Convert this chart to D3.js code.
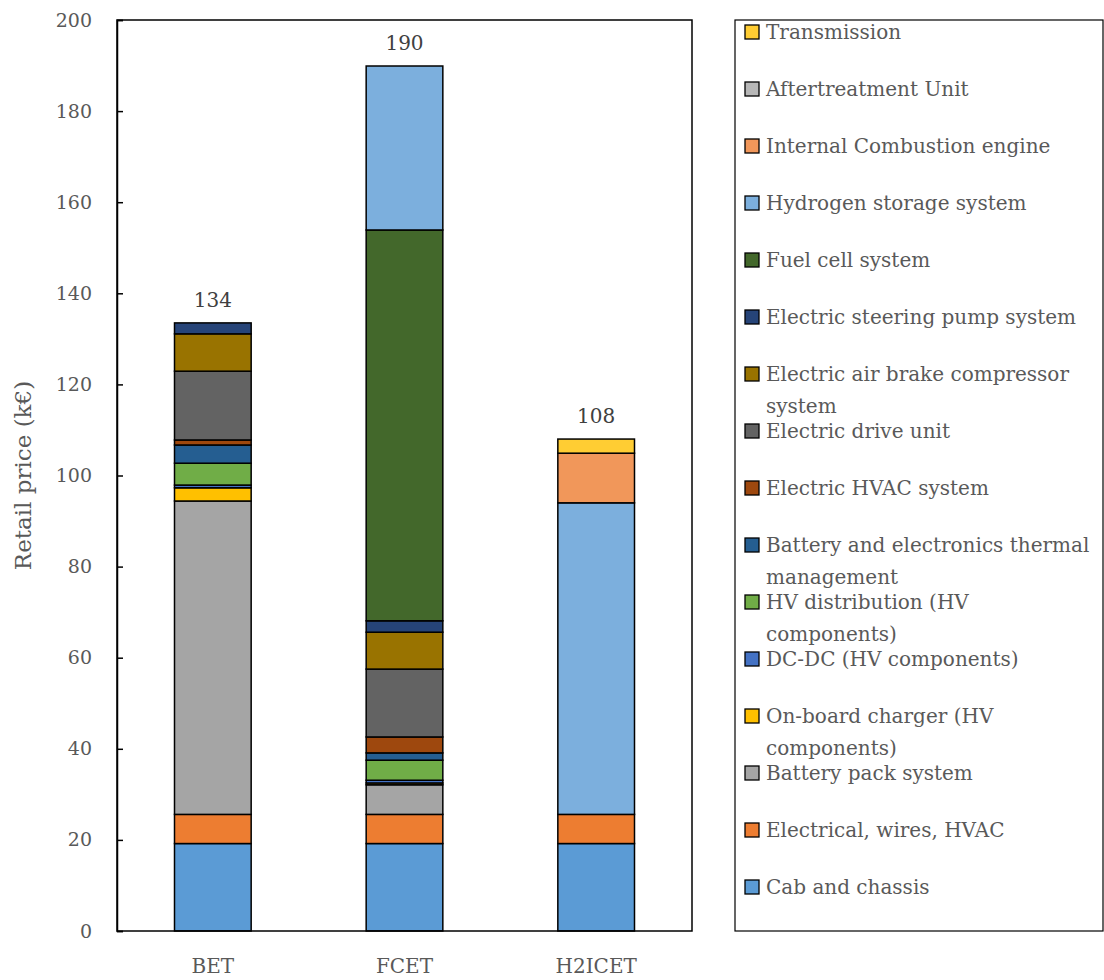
<!DOCTYPE html>
<html>
<head>
<meta charset="utf-8">
<script src="https://cdn.jsdelivr.net/npm/d3@7"></script>
<style>
  html, body { margin: 0; padding: 0; background: #fff; }
  svg text { font-family: "DejaVu Serif", serif; fill: #595959; }
</style>
</head>
<body>
<svg id="chart" width="1104" height="980"></svg>
<script>
// Truck types on the x axis
const categories = ["BET", "FCET", "H2ICET"];

// Component names, in stacking order (bottom to top); "\n" marks a legend line break
const components = [
  "Cab and chassis",
  "Electrical, wires, HVAC",
  "Battery pack system",
  "On-board charger (HV\ncomponents)",
  "DC-DC (HV components)",
  "HV distribution (HV\ncomponents)",
  "Battery and electronics thermal\nmanagement",
  "Electric HVAC system",
  "Electric drive unit",
  "Electric air brake compressor\nsystem",
  "Electric steering pump system",
  "Fuel cell system",
  "Hydrogen storage system",
  "Internal Combustion engine",
  "Aftertreatment Unit",
  "Transmission"
];

// Retail price per component (k€), one value per truck type [BET, FCET, H2ICET]
const cabChassis        = [19.2, 19.2, 19.2];
const electricalWires   = [6.4, 6.4, 6.4];
const batteryPack       = [68.8, 6.5, 0];
const onBoardCharger    = [2.9, 0.4, 0];
const dcdc              = [0.6, 0.6, 0];
const hvDistribution    = [4.8, 4.4, 0];
const thermalManagement = [4.0, 1.6, 0];
const electricHvac      = [1.1, 3.5, 0];
const electricDriveUnit = [15.1, 14.9, 0];
const airBrake          = [8.2, 8.1, 0];
const steeringPump      = [2.4, 2.5, 0];
const fuelCell          = [0, 85.8, 0];
const hydrogenStorage   = [0, 36.0, 68.4];
const combustionEngine  = [0, 0, 10.9];
const aftertreatment    = [0, 0, 0];
const transmission      = [0, 0, 3.1];

const yTicks = [0, 20, 40, 60, 80, 100, 120, 140, 160, 180, 200];

const seriesValues = [
  cabChassis, electricalWires, batteryPack, onBoardCharger, dcdc, hvDistribution,
  thermalManagement, electricHvac, electricDriveUnit, airBrake, steeringPump,
  fuelCell, hydrogenStorage, combustionEngine, aftertreatment, transmission
];

const colors = [
  "#5B9BD5", "#ED7D31", "#A5A5A5", "#FFC000", "#4472C4", "#70AD47",
  "#255E91", "#9E480E", "#636363", "#997300", "#264478", "#43682B",
  "#7CAFDD", "#F1975A", "#B7B7B7", "#FFCD33"
];

// Build a table: one row per category, one column per component
const keys = components.map((c, i) => "k" + i);
const table = categories.map((cat, ci) => {
  const row = { category: cat };
  keys.forEach((k, si) => { row[k] = seriesValues[si][ci]; });
  return row;
});

const svg = d3.select("#chart");
const plot = { left: 117, right: 692, top: 20, bottom: 931 };

const x = d3.scaleBand()
  .domain(categories)
  .range([plot.left, plot.right])
  .paddingInner(0.6)
  .paddingOuter(0.3);

const y = d3.scaleLinear().domain([0, 200]).range([plot.bottom, plot.top]);
const color = d3.scaleOrdinal().domain(keys).range(colors);

const stacked = d3.stack().keys(keys)(table);

// Stacked bars
const g = svg.append("g");
stacked.forEach(layer => {
  g.selectAll(null)
    .data(layer.filter(d => d[1] - d[0] > 0))
    .join("rect")
    .attr("x", d => x(d.data.category))
    .attr("width", x.bandwidth())
    .attr("y", d => y(d[1]))
    .attr("height", d => y(d[0]) - y(d[1]))
    .attr("fill", color(layer.key))
    .attr("stroke", "#000")
    .attr("stroke-width", 1.5);
});

// Totals above bars
const totals = table.map(r => ({ category: r.category, total: d3.sum(keys, k => r[k]) }));
svg.append("g").selectAll("text")
  .data(totals)
  .join("text")
  .attr("x", d => x(d.category) + x.bandwidth() / 2)
  .attr("y", d => y(d.total) - 16)
  .attr("text-anchor", "middle")
  .attr("font-size", 20)
  .style("fill", "#404040")
  .text(d => d3.format(".0f")(d.total));

// Plot frame
svg.append("rect")
  .attr("x", plot.left).attr("y", plot.top)
  .attr("width", plot.right - plot.left).attr("height", plot.bottom - plot.top)
  .attr("fill", "none").attr("stroke", "#000").attr("stroke-width", 1.5);

// Y axis (ticks point inward)
const yAxis = svg.append("g")
  .attr("transform", `translate(${plot.left},0)`)
  .call(d3.axisLeft(y).tickValues(yTicks).tickSize(-6).tickPadding(25).tickFormat(d3.format("d")));
yAxis.select(".domain").attr("stroke", "#000").attr("stroke-width", 1.5);
yAxis.selectAll(".tick line").attr("stroke", "#000").attr("stroke-width", 1.5);
yAxis.selectAll(".tick text").attr("font-size", 19).attr("font-family", "DejaVu Serif").style("fill", "#595959");

// X axis labels
const xAxis = svg.append("g")
  .attr("transform", `translate(0,${plot.bottom})`)
  .call(d3.axisBottom(x).tickSize(0).tickPadding(28));
xAxis.select(".domain").remove();
xAxis.selectAll(".tick text").attr("font-size", 20).attr("font-family", "DejaVu Serif").style("fill", "#595959");

// Y axis title
svg.append("text")
  .attr("transform", `translate(31,${(plot.top + plot.bottom) / 2}) rotate(-90)`)
  .attr("text-anchor", "middle")
  .attr("font-size", 23)
  .text("Retail price (k€)");

// Legend
const legend = { left: 735, right: 1103, top: 20, bottom: 931 };
svg.append("rect")
  .attr("x", legend.left).attr("y", legend.top)
  .attr("width", legend.right - legend.left).attr("height", legend.bottom - legend.top)
  .attr("fill", "none").attr("stroke", "#000").attr("stroke-width", 1.2);

const legendOrder = d3.range(components.length).reverse();
const lg = svg.append("g");
legendOrder.forEach((si, i) => {
  const cy = 32 + i * 57;
  lg.append("rect")
    .attr("x", 745).attr("y", cy - 7)
    .attr("width", 14).attr("height", 14)
    .attr("fill", colors[si]).attr("stroke", "#000").attr("stroke-width", 1.3);
  const t = lg.append("text")
    .attr("x", 766).attr("y", cy + 7)
    .attr("font-size", 20);
  components[si].split("\n").forEach((line, li) => {
    t.append("tspan").attr("x", 766).attr("dy", li === 0 ? 0 : 32).text(line);
  });
});
</script>
</body>
</html>
